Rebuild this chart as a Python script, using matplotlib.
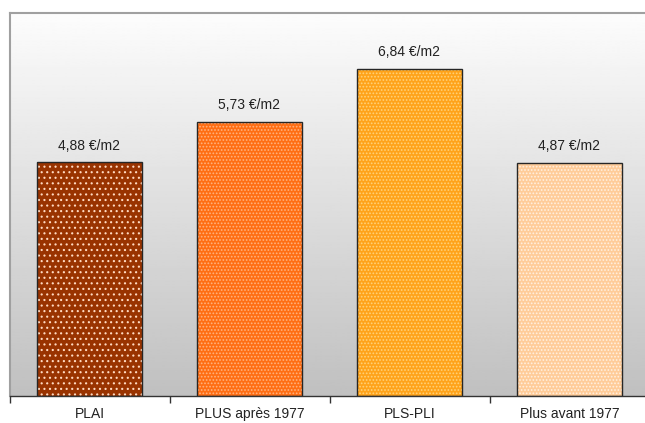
import numpy as np
import matplotlib
matplotlib.use("Agg")
from matplotlib import pyplot as plt

# loyers moyens par type de financement
categories = ["PLAI", "PLUS après 1977", "PLS-PLI", "Plus avant 1977"]
values = [4.88, 5.73, 6.84, 4.87]
labels = ["4,88 €/m2", "5,73 €/m2", "6,84 €/m2", "4,87 €/m2"]

fill_colors = ["#993300", "#ff6e14", "#ffa31a", "#ffcc99"]
dot_colors = ["#ffd9c0", "#ffb380", "#ffd27a", "#fff0e0"]
hatches = ["...", ".....", ".....", "....."]

plt.rcParams["font.family"] = ["Liberation Sans", "DejaVu Sans"]
plt.rcParams["hatch.linewidth"] = 0.8

fig = plt.figure(figsize=(6.45, 4.23), dpi=100)
fig.patch.set_facecolor("white")
ax = fig.add_axes([9.5 / 645, 27 / 423, 640 / 645, 383 / 423])

# vertical gradient background
grad = np.linspace(0.99, 0.753, 256).reshape(-1, 1)
ax.imshow(grad, cmap="gray", vmin=0, vmax=1, aspect="auto",
          extent=[0, 1, 0, 1], transform=ax.transAxes, zorder=0)

x = np.arange(len(categories))
width = 0.66

# fill, dotted pattern, then outline
ax.bar(x, values, width, color=fill_colors, linewidth=0, zorder=2)
for xi, v, dc, h in zip(x, values, dot_colors, hatches):
    ax.bar(xi, v, width, facecolor="none", edgecolor=dc, hatch=h,
           linewidth=0, zorder=3)
ax.bar(x, values, width, facecolor="none", edgecolor="#262626",
       linewidth=1.0, zorder=4)

for xi, v, lab in zip(x, values, labels):
    ax.annotate(lab, (xi, v), xytext=(0, 7), textcoords="offset points",
                ha="center", va="bottom", fontsize=10, color="#222222")

ax.set_xlim(-0.5, 3.5)
ax.set_ylim(0, 8)
ax.set_xticks(np.arange(-0.5, 3.5, 1.0))
ax.set_xticklabels([])
ax.set_xticks(x, minor=True)
ax.set_xticklabels(categories, minor=True, fontsize=10, color="#222222")
ax.tick_params(axis="x", which="major", length=5, width=1, color="#333333",
               direction="out")
ax.tick_params(axis="x", which="minor", length=0, pad=8)
ax.set_yticks([])

for side in ["left", "top", "right"]:
    ax.spines[side].set_color("#a0a0a0")
    ax.spines[side].set_linewidth(1.5)
ax.spines["bottom"].set_color("#333333")
ax.spines["bottom"].set_linewidth(1.0)

fig.savefig("out.png", dpi=100)
